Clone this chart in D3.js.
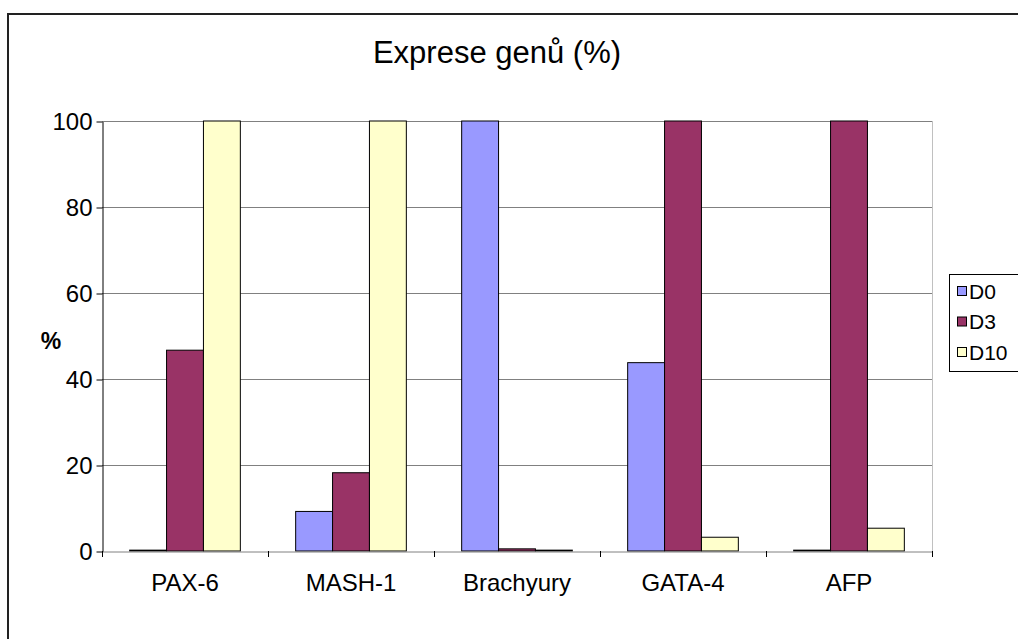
<!DOCTYPE html>
<html>
<head>
<meta charset="utf-8">
<script src="https://cdn.jsdelivr.net/npm/d3@7"></script>
<style>
  body { margin: 0; background: #fff; }
  text { font-family: "Liberation Sans", Arial, sans-serif; }
</style>
</head>
<body>
<script>
// data
var genes = ["PAX-6", "MASH-1", "Brachyury", "GATA-4", "AFP"];
var seriesNames = ["D0", "D3", "D10"];
var d0 = [0.2, 9.2, 100, 43.8, 0.2];
var d3v = [46.7, 18.2, 0.5, 100, 100];
var d10 = [100, 100, 0.2, 3.2, 5.3];
var yTicks = [0, 20, 40, 60, 80, 100];
var colors = ["#9999FF", "#993366", "#FFFFCC"];

var values = [d0, d3v, d10];

var W = 1018, H = 639;
var plot = {left: 102, right: 932, top: 121, bottom: 551};

var svg = d3.select("body").append("svg")
  .attr("width", W)
  .attr("height", H);

// outer frame
svg.append("rect")
  .attr("x", 8).attr("y", 14)
  .attr("width", W + 10).attr("height", H + 10)
  .attr("fill", "white")
  .attr("stroke", "#222")
  .attr("stroke-width", 2);

// scales
var x = d3.scaleBand().domain(genes).range([plot.left, plot.right]);
var inner = d3.scaleBand().domain(seriesNames)
  .range([0, x.bandwidth()]).paddingOuter(0.75).paddingInner(0);
var y = d3.scaleLinear().domain([0, 100]).range([plot.bottom, plot.top]);

// gridlines
svg.append("g").selectAll("line")
  .data(yTicks.filter(function(t) { return t > 0; }))
  .enter().append("line")
  .attr("x1", plot.left).attr("x2", plot.right)
  .attr("y1", function(d) { return y(d) + 0.5; })
  .attr("y2", function(d) { return y(d) + 0.5; })
  .attr("stroke", "#808080").attr("stroke-width", 1);

// right border of plot area
svg.append("line")
  .attr("x1", plot.right + 0.5).attr("x2", plot.right + 0.5)
  .attr("y1", plot.top).attr("y2", plot.bottom)
  .attr("stroke", "#c0c0c0");

// bars
var groups = svg.append("g").selectAll("g")
  .data(genes)
  .enter().append("g")
  .attr("transform", function(d) { return "translate(" + x(d) + ",0)"; });

groups.selectAll("rect")
  .data(function(g, gi) {
    return seriesNames.map(function(s, si) { return {s: s, si: si, v: values[si][gi]}; });
  })
  .enter().append("rect")
  .attr("x", function(d) { return inner(d.s); })
  .attr("y", function(d) { return y(d.v); })
  .attr("width", inner.bandwidth())
  .attr("height", function(d) { return y(0) - y(d.v); })
  .attr("fill", function(d) { return colors[d.si]; })
  .attr("stroke", "#000")
  .attr("stroke-width", 1);

// y axis
var yAxis = svg.append("g")
  .attr("transform", "translate(" + (plot.left + 0.5) + ",0.5)")
  .call(d3.axisLeft(y).tickValues(yTicks).tickSize(6).tickSizeOuter(0));
yAxis.select(".domain").attr("stroke", "#000");
yAxis.selectAll(".tick line").attr("stroke", "#000");
yAxis.selectAll("text")
  .attr("font-size", "24px")
  .attr("fill", "#000")
  .attr("x", -10)
  .attr("font-family", "Liberation Sans, Arial, sans-serif");

// x axis
var xAxis = svg.append("g")
  .attr("transform", "translate(0," + (plot.bottom + 0.5) + ")")
  .call(d3.axisBottom(x).tickSize(0).tickSizeOuter(0));
xAxis.select(".domain").attr("stroke", "#808080");
xAxis.selectAll("text")
  .attr("font-size", "24px")
  .attr("fill", "#000")
  .attr("y", 22)
  .attr("font-family", "Liberation Sans, Arial, sans-serif");

// x tick marks between categories
var xEdges = genes.map(function(g) { return x(g); }).concat([x.range()[1]]);
svg.append("g").selectAll("line")
  .data(xEdges)
  .enter().append("line")
  .attr("x1", function(d) { return Math.round(d) + 0.5; })
  .attr("x2", function(d) { return Math.round(d) + 0.5; })
  .attr("y1", plot.bottom)
  .attr("y2", plot.bottom + 6)
  .attr("stroke", "#000");

// title
svg.append("text")
  .attr("x", 497).attr("y", 63)
  .attr("text-anchor", "middle")
  .attr("font-size", "31px")
  .text("Expprese genů (%)".replace("Expp", "Exp"));

// y label
svg.append("text")
  .attr("x", 51).attr("y", 349)
  .attr("text-anchor", "middle")
  .attr("font-size", "23px")
  .attr("font-weight", "bold")
  .text("%");

// legend
var legend = svg.append("g");
legend.append("rect")
  .attr("x", 949.5).attr("y", 274.5)
  .attr("width", 80).attr("height", 97)
  .attr("fill", "white").attr("stroke", "#000");

var items = legend.selectAll("g.item")
  .data(seriesNames)
  .enter().append("g")
  .attr("class", "item")
  .attr("transform", function(d, i) { return "translate(957," + (291 + i * 30.5) + ")"; });

items.append("rect")
  .attr("x", 0.5).attr("y", -4.5)
  .attr("width", 9).attr("height", 9)
  .attr("fill", function(d, i) { return colors[i]; })
  .attr("stroke", "#000");

items.append("text")
  .attr("x", 12).attr("y", 7.5)
  .attr("font-size", "21px")
  .text(function(d) { return d; });
</script>
</body>
</html>
